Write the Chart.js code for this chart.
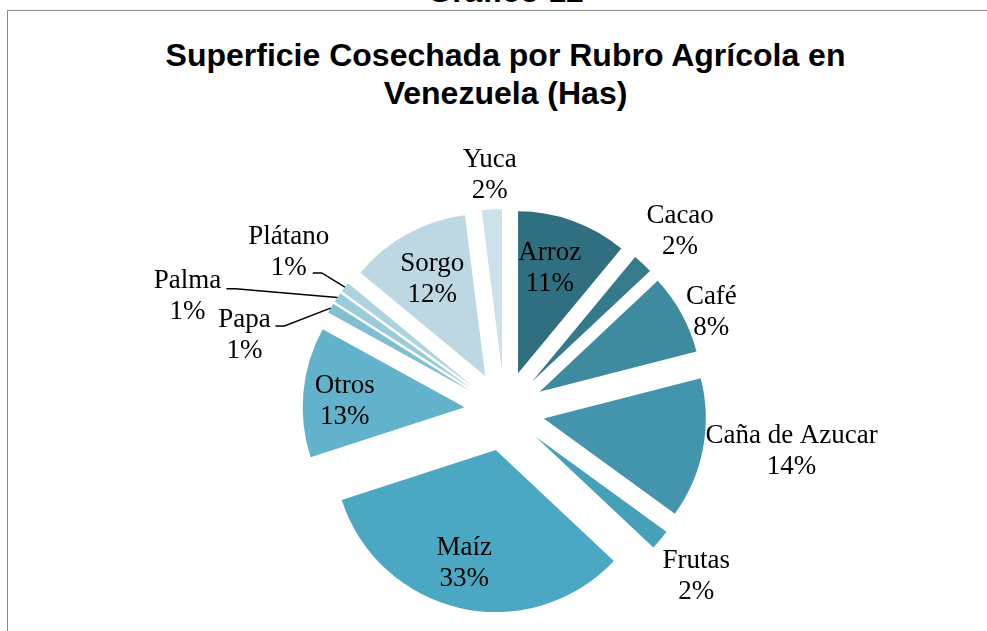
<!DOCTYPE html>
<html>
<head>
<meta charset="utf-8">
<script src="https://cdn.jsdelivr.net/npm/chart.js@4.4.1/dist/chart.umd.min.js"></script>
<style>
  html, body { margin: 0; padding: 0; background: #fff; }
  #wrap { position: relative; width: 987px; height: 631px; overflow: hidden; }
  #frame { position: absolute; left: 7px; top: 10px; width: 1000px; height: 700px;
           border: 1.5px solid #888; box-sizing: border-box; }
  .t { position: absolute; left: 7px; width: 997px; text-align: center; margin: 0;
       font-family: "Liberation Sans", Arial, sans-serif; font-weight: bold; color: #000; }
  #fig { top: -26px; font-size: 32px; line-height: 34px; }
  #title { top: 36px; font-size: 32px; line-height: 38px; }
  canvas { position: absolute; left: 0; top: 0; }
</style>
</head>
<body>
<div id="wrap">
  <div id="frame"></div>
  <div class="t" id="fig">Gráfico 12</div>
  <div class="t" id="title">Superficie Cosechada por Rubro Agrícola en<br>Venezuela (Has)</div>
  <canvas id="c" width="987" height="631"></canvas>
</div>
<script>
// Crops and their share of harvested area (%)
const crops = ['Arroz', 'Cacao', 'Café', 'Caña de Azucar', 'Frutas', 'Maíz',
               'Otros', 'Papa', 'Palma', 'Plátano', 'Sorgo', 'Yuca'];
const shares = [11, 2, 8, 14, 2, 33, 13, 1, 1, 1, 12, 2];
const sliceColors = ['#2f6f80', '#357a8b', '#3e8a9f', '#4295ad', '#45a0b8', '#4aa8c2',
                     '#63b2cb', '#80bed2', '#9acbdb', '#aed3e0', '#bdd7e3', '#cce1e9'];

// Label placement: distance from pie centre (px) and angular nudge (deg)
const labelDist  = [150, 251, 229, 290, 253, 158, 160, 271, 337, 268, 150, 236];
const labelNudge = [-2.2, 1.2, 3.4, -2.7, 1.1, 2.2, -1.8, -14.3, -14.4, -1.4, 0, 0];
// Leader lines: start offset from label centre, or null for none
const leaders = [null, null, null, null, null, null, null,
                 [31, -9], [39, -8], [24, 21], null, null];

const EXPLODE = 40;
const total = shares.reduce((a, b) => a + b, 0);

// Draw each arc pushed outwards along its bisector
const explodePlugin = {
  id: 'explode',
  beforeDatasetDraw(chart, args) {
    const ctx = chart.ctx;
    args.meta.data.forEach(arc => {
      const mid = (arc.startAngle + arc.endAngle) / 2;
      ctx.save();
      ctx.translate(Math.cos(mid) * EXPLODE, Math.sin(mid) * EXPLODE);
      arc.draw(ctx, chart.chartArea);
      ctx.restore();
    });
    return false;
  }
};

// Category name and percentage labels, with leader lines for the thin slices
const labelPlugin = {
  id: 'sliceLabels',
  afterDatasetsDraw(chart) {
    const ctx = chart.ctx;
    const meta = chart.getDatasetMeta(0);
    ctx.save();
    ctx.font = '27px "Liberation Serif", "Times New Roman", serif';
    ctx.fillStyle = '#000';
    ctx.textAlign = 'center';
    ctx.textBaseline = 'middle';
    meta.data.forEach((arc, i) => {
      const mid = (arc.startAngle + arc.endAngle) / 2;
      const a = mid + labelNudge[i] * Math.PI / 180;
      const lx = arc.x + Math.cos(a) * labelDist[i];
      const ly = arc.y + Math.sin(a) * labelDist[i];
      const pct = Math.round(shares[i] / total * 100) + '%';
      ctx.fillText(crops[i], lx, ly - 15.5);
      ctx.fillText(pct, lx, ly + 15.5);
      if (leaders[i]) {
        const sx = lx + leaders[i][0], sy = ly + leaders[i][1];
        const r = arc.outerRadius + EXPLODE;
        const ex = arc.x + Math.cos(mid) * r, ey = arc.y + Math.sin(mid) * r;
        ctx.beginPath();
        ctx.moveTo(sx, sy);
        ctx.lineTo(sx + 9, sy);
        ctx.lineTo(ex, ey);
        ctx.strokeStyle = '#000';
        ctx.lineWidth = 1.5;
        ctx.stroke();
      }
    });
    ctx.restore();
  }
};

new Chart(document.getElementById('c'), {
  type: 'pie',
  data: {
    labels: crops,
    datasets: [{
      data: shares,
      backgroundColor: sliceColors,
      borderWidth: 0,
      offset: 0,
      hoverOffset: 0,
      radius: 162
    }]
  },
  options: {
    responsive: false,
    devicePixelRatio: 1,
    animation: false,
    events: [],
    layout: { padding: { left: 22, right: 0, top: 191, bottom: 0 } },
    plugins: {
      legend: { display: false },
      tooltip: { enabled: false },
      title: { display: false }
    }
  },
  plugins: [explodePlugin, labelPlugin]
});
</script>
</body>
</html>
